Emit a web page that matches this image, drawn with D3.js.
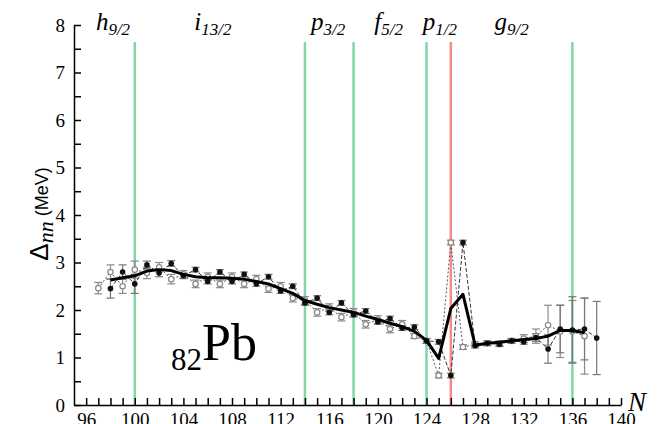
<!DOCTYPE html>
<html>
<head>
<meta charset="utf-8">
<script src="https://cdn.jsdelivr.net/npm/d3@7"></script>
<style>
  body { margin: 0; background: #fff; }
  svg text, svg tspan { font-family: 'Liberation Serif', 'Times New Roman', Times, 'DejaVu Serif', serif !important; }
  svg text.sans, svg tspan.sans { font-family: 'Liberation Sans', Arial, sans-serif !important; }
</style>
</head>
<body>
<script>
// thick solid curve
var lineN   = [98,99,100,101,102,103,104,105,106,107,108,109,110,111,112,113,114,115,116,117,118,119,120,121,122,123,124,125,126,127,128,129,130,131,132,133,134,135,136,137];
var lineVal = [2.63,2.68,2.72,2.82,2.85,2.83,2.75,2.70,2.68,2.68,2.67,2.65,2.60,2.55,2.45,2.35,2.20,2.12,2.05,2.00,1.95,1.87,1.80,1.72,1.65,1.55,1.36,0.98,2.03,2.33,1.26,1.30,1.32,1.35,1.38,1.40,1.45,1.57,1.57,1.52];

// filled points (dashed)
var filledN   = [98,99,100,101,102,103,104,105,106,107,108,109,110,111,112,113,114,115,116,117,118,119,120,121,122,123,124,125,126,127,128,129,130,131,132,133,134,135,136,137,138];
var filledVal = [2.45,2.80,2.55,2.95,2.78,2.98,2.72,2.85,2.60,2.80,2.60,2.75,2.55,2.70,2.40,2.50,2.15,2.25,1.95,2.15,1.90,1.98,1.75,1.82,1.62,1.64,1.35,1.33,0.62,3.42,1.25,1.30,1.28,1.35,1.33,1.42,1.18,1.60,1.58,1.60,1.41];
var filledErr = [0.20,0.15,0.20,0.08,0.08,0.06,0.06,0.05,0.05,0.05,0.05,0.05,0.05,0.05,0.05,0.05,0.05,0.05,0.05,0.05,0.05,0.05,0.05,0.05,0.05,0.05,0.05,0.05,0.05,0.05,0.05,0.05,0.05,0.05,0.05,0.08,0.30,0.50,0.70,0.65,0.77];

// open points (dotted)
var openN   = [97,98,99,100,101,102,103,104,105,106,107,108,109,110,111,112,113,114,115,116,117,118,119,120,121,122,123,124,125,126,127,128,129,130,131,132,133,134,135,136,137];
var openVal = [2.46,2.80,2.50,2.85,2.78,2.90,2.65,2.75,2.55,2.70,2.55,2.70,2.55,2.65,2.45,2.50,2.25,2.20,1.95,2.05,1.85,1.95,1.70,1.80,1.60,1.70,1.45,1.35,0.62,3.42,1.22,1.28,1.30,1.30,1.35,1.40,1.45,1.68,1.55,1.55,1.45];
var openErr = [0.12,0.15,0.15,0.18,0.12,0.10,0.10,0.08,0.08,0.08,0.08,0.08,0.08,0.08,0.08,0.08,0.08,0.08,0.08,0.08,0.08,0.08,0.08,0.08,0.08,0.08,0.05,0.05,0.05,0.05,0.05,0.05,0.05,0.05,0.05,0.08,0.15,0.42,0.55,0.65,0.80];

var greenLines = [100,114,118,124,136];
var redLines = [126];

var orbitals = ["h","i","p","f","p","g"];
var orbitalSubs = ["9/2","13/2","3/2","5/2","1/2","9/2"];
var orbitalAt = [96.8,104.9,114.5,119.7,123.7,129.6];

var xTicks = d3.range(96, 141);
var yTicks = d3.range(0, 8.01, 0.5);

var SERIF = "Liberation Serif";

var W = 659, H = 424;
var svg = d3.select("body").append("svg")
  .attr("width", W).attr("height", H)
  .style("display", "block");

var x = d3.scaleLinear().domain([95, 140]).range([74, 621]);
var y = d3.scaleLinear().domain([0, 8]).range([405, 25]);

// shell lines
svg.selectAll(".gl").data(greenLines).enter().append("line")
  .attr("x1", x).attr("x2", x)
  .attr("y1", 42).attr("y2", y(0))
  .attr("stroke", "#7fd8a6").attr("stroke-width", 2.5);
svg.selectAll(".rl").data(redLines).enter().append("line")
  .attr("x1", x).attr("x2", x)
  .attr("y1", 42).attr("y2", y(0))
  .attr("stroke", "#f58a8a").attr("stroke-width", 2.5);

// axes
var xa = svg.append("g")
  .attr("transform", "translate(0," + y(0) + ")")
  .call(d3.axisBottom(x).tickValues(xTicks).tickSize(-7).tickSizeOuter(0).tickPadding(8)
    .tickFormat(function(d) { return d % 4 === 0 ? d : ""; }));

var ya = svg.append("g")
  .attr("transform", "translate(" + x(95) + ",0)")
  .call(d3.axisLeft(y).tickValues(yTicks).tickSize(-7).tickSizeOuter(0).tickPadding(9)
    .tickFormat(function(d) { return d % 1 === 0 ? d : ""; }));

[xa, ya].forEach(function(a) {
  a.attr("font-family", SERIF).attr("font-size", 19);
  a.selectAll("path, line").attr("stroke", "#000").attr("stroke-width", 1.5);
  a.selectAll("text").attr("fill", "#000");
});

function pts(ns, vs) { return ns.map(function(n, i) { return [n, vs[i]]; }); }
var line = d3.line().x(function(d) { return x(d[0]); }).y(function(d) { return y(d[1]); });

// error bars
function errBars(ns, vs, es, col) {
  var g = svg.append("g").attr("stroke", col).attr("stroke-width", 1.2);
  ns.forEach(function(n, i) {
    var cx = x(n), lo = y(vs[i] - es[i]), hi = y(vs[i] + es[i]);
    g.append("line").attr("x1", cx).attr("x2", cx).attr("y1", lo).attr("y2", hi);
    g.append("line").attr("x1", cx - 4).attr("x2", cx + 4).attr("y1", lo).attr("y2", lo);
    g.append("line").attr("x1", cx - 4).attr("x2", cx + 4).attr("y1", hi).attr("y2", hi);
  });
}
errBars(openN, openVal, openErr, "#8a8a8a");
errBars(filledN, filledVal, filledErr, "#777");

// dotted line for open set
svg.append("path").datum(pts(openN, openVal))
  .attr("d", line).attr("fill", "none")
  .attr("stroke", "#555").attr("stroke-width", 1).attr("stroke-dasharray", "2,2");

// dashed line for filled set
svg.append("path").datum(pts(filledN, filledVal))
  .attr("d", line).attr("fill", "none")
  .attr("stroke", "#333").attr("stroke-width", 1).attr("stroke-dasharray", "4,2");

// open markers
svg.selectAll(".op").data(pts(openN, openVal)).enter().append("circle")
  .attr("cx", function(d) { return x(d[0]); })
  .attr("cy", function(d) { return y(d[1]); })
  .attr("r", 2.7).attr("fill", "#fff").attr("stroke", "#888").attr("stroke-width", 1.2);

// filled markers
svg.selectAll(".fp").data(pts(filledN, filledVal)).enter().append("circle")
  .attr("cx", function(d) { return x(d[0]); })
  .attr("cy", function(d) { return y(d[1]); })
  .attr("r", 2.8).attr("fill", "#111");

// thick curve
svg.append("path").datum(pts(lineN, lineVal))
  .attr("d", line).attr("fill", "none")
  .attr("stroke", "#000").attr("stroke-width", 3).attr("stroke-linejoin", "round");

// orbital labels
var ol = svg.selectAll(".orb").data(orbitals).enter().append("text")
  .attr("x", function(d, i) { return x(orbitalAt[i]); })
  .attr("y", 30)
  .attr("font-family", SERIF)
  .attr("font-style", "italic")
  .attr("font-size", 25);
ol.append("tspan").text(function(d) { return d; });
ol.append("tspan").attr("dy", 5).attr("font-size", 17)
  .text(function(d, i) { return orbitalSubs[i]; });

// 82Pb
var pb = svg.append("text").attr("x", 171).attr("y", 360).attr("font-family", SERIF);
pb.append("tspan").attr("dy", 10).attr("font-size", 31).text("82");
pb.append("tspan").attr("dy", -10).attr("font-size", 52).text("Pb");

// N label
svg.append("text").attr("x", 628).attr("y", 411)
  .attr("font-family", SERIF).attr("font-style", "italic")
  .attr("font-size", 27).text("N");

// y label
var yl = svg.append("text").attr("class", "sans")
  .attr("transform", "translate(48,214) rotate(-90)")
  .attr("text-anchor", "middle");
yl.append("tspan").attr("class", "sans").attr("font-size", 26).text("\u0394");
yl.append("tspan").attr("dy", 5).attr("font-size", 22)
  .attr("font-style", "italic").text("nn");
yl.append("tspan").attr("class", "sans").attr("dy", -5).attr("font-size", 18).text(" (MeV)");
</script>
</body>
</html>
